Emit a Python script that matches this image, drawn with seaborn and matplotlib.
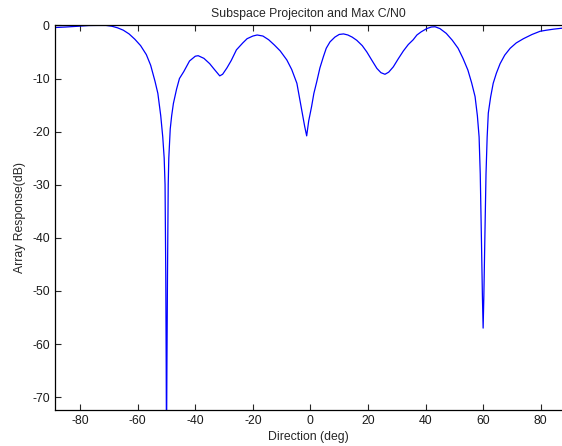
import matplotlib
matplotlib.use("Agg")
import matplotlib.pyplot as plt
import seaborn as sns
import pandas as pd

# 読み取った値 (方向[deg], 応答[dB])
direction = [-89, -85, -80, -77, -74, -71, -69, -67, -65, -63, -61, -59, -57,
             -55.5, -54, -53, -52, -51.3, -50.8, -50.5, -50.25, -50.1, -50.0,
             -49.85, -49.65, -49.4, -49.2, -48.7, -48.2, -47.6, -46.5, -45.5,
             -44, -42, -40, -39, -37, -35, -33.5, -31.5, -30.5, -29, -27.5,
             -25.7, -23.5, -22, -20, -18.5, -16.5, -14.5, -12.5, -10.5, -8.2,
             -6.5, -4.7, -3.0, -2.0, -1.3, -0.6, 0.4, 1.2, 2.2, 3.3, 4.5, 5.5,
             6.8, 8.5, 10, 11.5, 13, 14.5, 16.1, 18, 19.6, 21.5, 23.1, 24.5,
             25.9, 27.2, 28.8, 30.5, 32.3, 34, 35.7, 37, 38.5, 40.4, 42, 43.3,
             45, 47.2, 49.3, 51.3, 53, 54.7, 56, 57.2, 58.0, 58.6, 59.0, 59.4,
             59.75, 60.0, 60.25, 60.6, 61.0, 61.4, 61.8, 62.6, 63.5, 64.6, 65.9,
             67.5, 69.4, 71.5, 74, 77, 79.8, 82, 84.5, 87, 88]
response = [-0.4, -0.3, -0.13, -0.02, 0, 0, -0.15, -0.45, -0.9, -1.6, -2.6,
            -3.8, -5.5, -7.5, -10.5, -12.8, -17, -21, -25, -30, -47, -64, -80,
            -64, -47, -30, -25, -19.5, -17, -14.7, -12, -10, -8.7, -6.7, -5.8,
            -5.7, -6.2, -7.2, -8.2, -9.5, -9.2, -8.0, -6.6, -4.6, -3.3, -2.5,
            -2.0, -1.8, -2.0, -2.7, -3.7, -4.8, -6.5, -8.3, -10.9, -16, -19,
            -20.8, -18, -15.3, -12.8, -10.6, -8.0, -5.9, -4.3, -3.1, -2.2,
            -1.7, -1.6, -1.8, -2.2, -2.8, -3.8, -5.0, -6.7, -8.1, -8.9, -9.2,
            -8.8, -7.8, -6.3, -4.8, -3.6, -2.7, -1.8, -1.2, -0.6, -0.3, -0.25,
            -0.6, -1.5, -2.8, -4.3, -6.2, -8.4, -10.8, -13.4, -17, -21, -28,
            -40, -51, -57, -51, -40, -28, -21, -16.5, -13.5, -10.9, -9, -7.2,
            -5.6, -4.3, -3.3, -2.5, -1.7, -1.1, -0.9, -0.7, -0.55, -0.5]

xticks = [-80, -60, -40, -20, 0, 20, 40, 60, 80]
yticks = [0, -10, -20, -30, -40, -50, -60, -70]

df = pd.DataFrame({'direction': direction, 'response': response})

sns.set_style("ticks")
plt.rcParams['font.family'] = ['Liberation Sans', 'DejaVu Sans']
plt.rcParams['axes.unicode_minus'] = False

fig = plt.figure(figsize=(5.62, 4.46), dpi=100)
ax = fig.add_axes([0.097, 0.081, 0.903, 0.862])

sns.lineplot(data=df, x='direction', y='response', sort=False,
             estimator=None, color='#0000ff', linewidth=0.9, ax=ax)

ax.set_xlim(-88.9, 87.4)
ax.set_ylim(-72.4, 0)
ax.set_xticks(xticks)
ax.set_yticks(yticks)
ax.tick_params(direction='in', length=4, width=0.8, labelsize=8.8,
               top=True, labelcolor='#1a1a1a')
for side in ['left', 'bottom', 'top']:
    ax.spines[side].set_linewidth(0.9)
    ax.spines[side].set_color('black')
    ax.spines[side].set_visible(True)
ax.spines['right'].set_visible(False)

ax.set_title('Subspace Projeciton and Max C/N0', fontsize=8.8, pad=6)
ax.set_xlabel('Direction (deg)', fontsize=8.8, labelpad=3)
ax.set_ylabel('Array Response(dB)', fontsize=8.8, labelpad=4)

fig.savefig('out.png', dpi=100)
